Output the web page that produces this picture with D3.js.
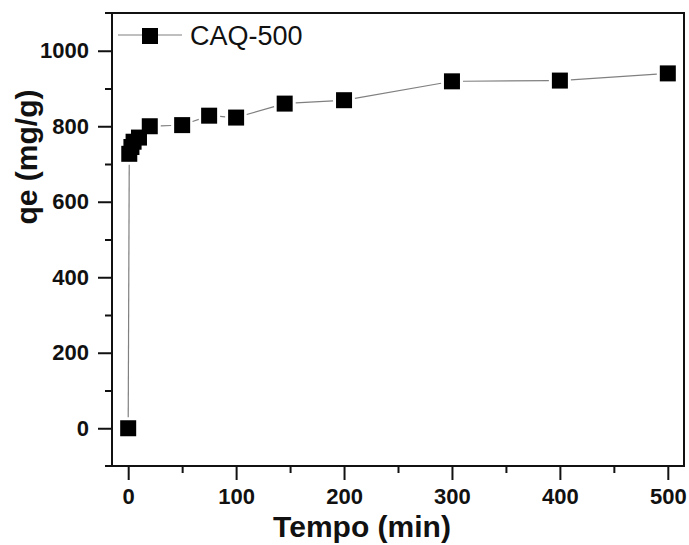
<!DOCTYPE html>
<html>
<head>
<meta charset="utf-8">
<script src="https://cdn.jsdelivr.net/npm/d3@7"></script>
<style>
  body { margin: 0; background: #fff; }
  svg text { font-family: "Liberation Sans", Arial, sans-serif; fill: #111; }
</style>
</head>
<body>
<script>
// adsorption kinetics, CAQ-500
let tempo = [0, 1, 3, 5, 10, 20, 50, 75, 100, 145, 200, 300, 400, 500]
let qe = [0, 727, 745, 759, 770, 800, 803, 828, 823, 860, 869, 919, 921, 940]
let seriesName = 'CAQ-500'
let xTicks = [0, 100, 200, 300, 400, 500]
let xMinor = [50, 150, 250, 350, 450]
let yTicks = [0, 200, 400, 600, 800, 1000]
let yMinor = [100, 300, 500, 700, 900]

let w = 689
let h = 545
let mLeft = 112, mRight = 684, mTop = 13, mBottom = 466
let ms = 16

let x = d3.scaleLinear().domain([-15, 515]).range([mLeft, mRight])
let y = d3.scaleLinear().domain([-100, 1100]).range([mBottom, mTop])

let svg = d3.select('body').append('svg').attr('width', w).attr('height', h)

// axes
let xAxis = svg.append('g').attr('transform', 'translate(0,' + mBottom + ')')
  .call(d3.axisBottom(x).tickValues(xTicks).tickSize(14).tickPadding(8).tickFormat(d3.format('d')))
xAxis.selectAll('text').style('font-size', '22px').style('font-weight', 'bold')
svg.append('g').attr('transform', 'translate(0,' + mBottom + ')')
  .call(d3.axisBottom(x).tickValues(xMinor).tickSize(7).tickFormat(''))

let yAxis = svg.append('g').attr('transform', 'translate(' + mLeft + ',0)')
  .call(d3.axisLeft(y).tickValues(yTicks).tickSize(14).tickPadding(9).tickFormat(d3.format('d')))
yAxis.selectAll('text').style('font-size', '22px').style('font-weight', 'bold')
svg.append('g').attr('transform', 'translate(' + mLeft + ',0)')
  .call(d3.axisLeft(y).tickValues(yMinor).tickSize(7).tickFormat(''))

svg.selectAll('.domain').remove()
svg.selectAll('.tick line').attr('stroke', '#111').attr('stroke-width', 2)

// frame
let frame = svg.append('g').attr('stroke', '#111').attr('stroke-width', 2).attr('fill', 'none')
frame.append('line').attr('x1', 105).attr('x2', mRight + 1).attr('y1', mBottom).attr('y2', mBottom)
frame.append('line').attr('x1', 105).attr('x2', mRight + 1).attr('y1', mTop).attr('y2', mTop)
frame.append('line').attr('x1', mLeft).attr('x2', mLeft).attr('y1', mTop).attr('y2', mBottom)
frame.append('line').attr('x1', mRight).attr('x2', mRight).attr('y1', mTop).attr('y2', mBottom)

// connecting segments, leaving a small gap at each marker
let pts = tempo.map((t, i) => [x(t), y(qe[i])])
let gap = ms / 2 + 3
let segs = []
for (let i = 1; i < pts.length; i++) {
  let [x0, y0] = pts[i - 1], [x1, y1] = pts[i]
  let dx = x1 - x0, dy = y1 - y0
  let len = Math.sqrt(dx * dx + dy * dy)
  if (len <= gap * 2) continue
  let ux = dx / len, uy = dy / len
  segs.push([x0 + ux * gap, y0 + uy * gap, x1 - ux * gap, y1 - uy * gap])
}
svg.append('g').selectAll('line').data(segs).enter().append('line')
  .attr('x1', d => d[0]).attr('y1', d => d[1])
  .attr('x2', d => d[2]).attr('y2', d => d[3])
  .attr('stroke', '#808080').attr('stroke-width', 1.2)

svg.append('g').selectAll('rect').data(tempo).enter().append('rect')
  .attr('x', d => x(d) - ms / 2)
  .attr('y', (d, i) => y(qe[i]) - ms / 2)
  .attr('width', ms).attr('height', ms)
  .attr('fill', '#000')

// legend
let lg = svg.append('g')
lg.append('line').attr('x1', 118).attr('x2', 182).attr('y1', 35).attr('y2', 35)
  .attr('stroke', '#808080').attr('stroke-width', 1.2)
lg.append('rect').attr('x', 150 - ms / 2).attr('y', 36 - ms / 2).attr('width', ms).attr('height', ms).attr('fill', '#000')
lg.append('text').attr('x', 190).attr('y', 45).style('font-size', '27px').text(seriesName)

// titles
svg.append('text').attr('x', 362).attr('y', 537).attr('text-anchor', 'middle')
  .style('font-size', '30px').style('font-weight', 'bold').text('Tempo (min)')
svg.append('text').attr('transform', 'translate(37,157) rotate(-90)').attr('text-anchor', 'middle')
  .style('font-size', '30px').style('font-weight', 'bold').text('qe (mg/g)')
</script>
</body>
</html>
